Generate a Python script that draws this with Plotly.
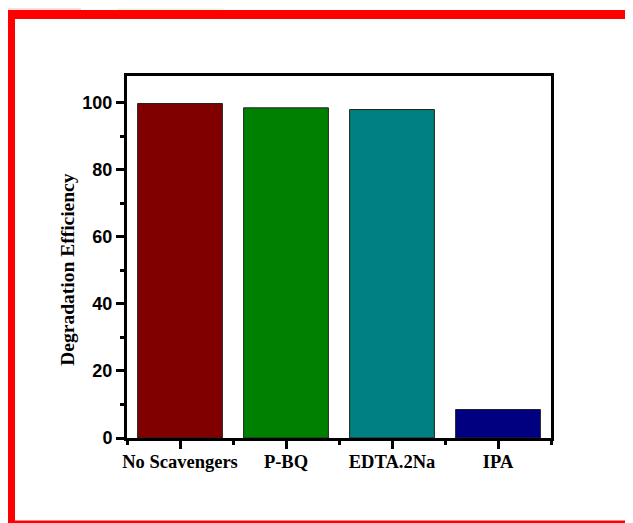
import plotly.graph_objects as go

categories = ["No Scavengers", "P-BQ", "EDTA.2Na", "IPA"]
efficiency = [99.8, 98.5, 98.0, 8.5]
bar_colors = ["#800000", "#008000", "#008080", "#000080"]
y_ticks = [0, 20, 40, 60, 80, 100]
y_title = "Degradation Efficiency"

# page body has an 8px margin; figure coordinates are shifted by it
O = 8
W, H = 633 - O, 523 - O
L, R, T, B = 127 - O, 551 - O, 76 - O, 438.5 - O

def px(x):
    return (x - O - L) / (R - L)

def py(y):
    return (B - (y - O)) / (B - T)

xpos = list(range(len(categories)))

fig = go.Figure()
fig.add_trace(go.Bar(
    x=xpos, y=efficiency, width=0.8,
    marker=dict(color=bar_colors, line=dict(color="#222222", width=1)),
    showlegend=False,
))

shapes = [
    dict(type="rect", xref="paper", yref="paper", x0=px(0), x1=px(81), y0=py(19), y1=py(0),
         fillcolor="#FFE0E0", line=dict(width=0), layer="below"),
    dict(type="rect", xref="paper", yref="paper", x0=px(0), x1=px(7), y0=py(23), y1=py(0),
         fillcolor="#FFE0E0", line=dict(width=0), layer="below"),
    dict(type="path", xref="paper", yref="paper",
         path=f"M {px(117)} {py(0)} L {px(234)} {py(0)} L {px(222)} {py(10)} L {px(117)} {py(10)} Z",
         fillcolor="#F0FAE6", line=dict(width=0), layer="below"),
    dict(type="rect", xref="paper", yref="paper", x0=px(7), x1=px(640), y0=py(19), y1=py(10),
         fillcolor="#FF0000", line=dict(width=0)),
    dict(type="rect", xref="paper", yref="paper", x0=px(7), x1=px(15), y0=py(530), y1=py(10),
         fillcolor="#FF0000", line=dict(width=0)),
    dict(type="rect", xref="paper", yref="paper", x0=px(7), x1=px(640), y0=py(530), y1=py(521),
         fillcolor="#FF0000", line=dict(width=0)),
]

fig.update_layout(
    width=W, height=H,
    margin=dict(l=L, r=W - R, t=T, b=H - B, pad=0),
    paper_bgcolor="white", plot_bgcolor="white",
    shapes=shapes,
    annotations=[dict(
        text=y_title, textangle=-90, showarrow=False,
        xref="paper", yref="paper", x=px(68), y=py(270), xanchor="center", yanchor="middle",
        font=dict(family="Liberation Serif", size=19.5, color="black", weight="bold"),
    )],
    xaxis=dict(
        range=[-0.5, 3.5], tickmode="array", tickvals=xpos, ticktext=categories,
        showline=True, linecolor="black", linewidth=3, mirror=True,
        ticks="outside", ticklen=8, tickwidth=2.5, tickcolor="black",
        showgrid=False, zeroline=False, ticklabelstandoff=-3,
        tickfont=dict(family="Liberation Serif", size=18.5, color="black", weight="bold"),
        minor=dict(tickmode="array", tickvals=[-0.5, 0.5, 1.5, 2.5, 3.5], ticks="outside",
                   ticklen=4, tickwidth=2.5, tickcolor="black", showgrid=False),
    ),
    yaxis=dict(
        range=[0, 108], tickmode="array", tickvals=y_ticks,
        showline=True, linecolor="black", linewidth=3, mirror=True,
        ticks="outside", ticklen=8, tickwidth=2.5, tickcolor="black",
        showgrid=False, zeroline=False,
        tickfont=dict(family="Liberation Sans", size=18, color="black", weight="bold"),
        minor=dict(tickmode="array", tickvals=[10, 30, 50, 70, 90], ticks="outside",
                   ticklen=4, tickwidth=2.5, tickcolor="black", showgrid=False),
    ),
)

fig.write_html("out.html")
